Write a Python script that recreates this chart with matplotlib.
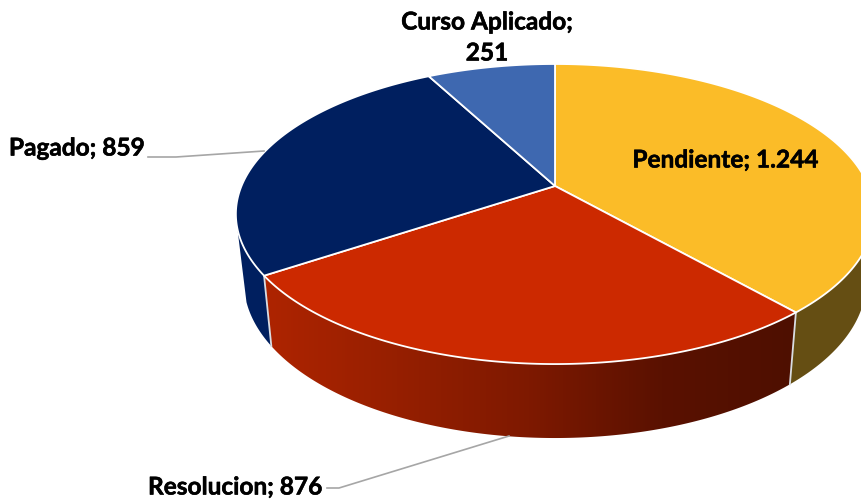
import matplotlib
matplotlib.use("Agg")
import matplotlib.pyplot as plt
import matplotlib.patheffects as pe
from matplotlib.colors import LinearSegmentedColormap
from matplotlib.patches import Polygon
import numpy as np

categories = ["Pendiente", "Resolucion", "Pagado", "Curso Aplicado"]
values = [1244, 876, 859, 251]
top_colors = ["#FBBC28", "#CC2900", "#001F5F", "#3E68B0"]
side_colors = ["#654E13", "#4E0F00", "#001F5F", "#3E68B0"]
value_labels = ["1.244", "876", "859", "251"]


# unit circle angle (clockwise from top) -> top face of the tilted pie, in pixels
def top_face(a):
    k = 0.1868
    w = 1 + k * np.cos(a)
    return 555 + 313.5 * np.sin(a) / w, 186 - 144.8 * np.cos(a) / w


def bottom_face(a):
    x, y = top_face(a)
    return 555 + (x - 555) * 0.975, y * 1.04 + 59.4


def arc(a0, a1, f):
    t = np.linspace(a0, a1, 200)
    x, y = f(t)
    return np.column_stack([x, y])


fig = plt.figure(figsize=(8.61, 5), dpi=100)
ax = fig.add_axes([0, 0, 1, 1])
ax.set_xlim(0, 861)
ax.set_ylim(500, 0)
ax.axis("off")

edges = np.concatenate([[0], np.cumsum(values)]) / sum(values) * 2 * np.pi

# side walls, only the front half shows
for i in range(3):
    a0, a1 = edges[i], edges[i + 1]
    if i == 0:
        a0 = np.pi / 2
    if i == 1:
        wall = np.vstack([arc(a0, a1, top_face), arc(a1, a0, bottom_face)])
        poly = Polygon(wall, closed=True, fc="none", ec="none")
        ax.add_patch(poly)
        cmap = LinearSegmentedColormap.from_list(
            "wall", ["#AE2400", "#961F00", "#7E1900", "#5A1100", "#4E0F00"])
        im = ax.imshow(np.linspace(0, 1, 256)[None, :], cmap=cmap, aspect="auto",
                       extent=[264, 795, 440, 270], zorder=1)
        im.set_clip_path(poly)
    elif i == 2:
        # left end of the wall runs up to the widest point of the top face
        wall = np.vstack([arc(a0, 1.41 * np.pi, top_face),
                          arc(1.40 * np.pi, a0, bottom_face)])
        ax.add_patch(Polygon(wall, closed=True, fc=side_colors[i], ec="none", zorder=1))
    else:
        wall = np.vstack([arc(a0, a1, top_face), arc(a1, a0, bottom_face)])
        ax.add_patch(Polygon(wall, closed=True, fc=side_colors[i], ec="none", zorder=1))

# white seams between the walls
for a in edges[1:3]:
    x0, y0 = top_face(a)
    x1, y1 = bottom_face(a)
    ax.plot([x0, x1], [y0, y1], color="#D9DDE3", lw=1.3, zorder=2)

# top face
apex = top_face(0)[0], 186
for i in range(4):
    pts = np.vstack([[apex], arc(edges[i], edges[i + 1], top_face)])
    ax.add_patch(Polygon(pts, closed=True, fc=top_colors[i], ec="white", lw=1.3,
                         joinstyle="round", zorder=3))

# leader lines
ax.plot([148, 176, 264], [157, 157, 151], color="#A6A6A6", lw=1.2, zorder=4)
ax.plot([327, 339, 509], [488, 488, 436], color="#A6A6A6", lw=1.2, zorder=4)

font = dict(family="Lato", weight="bold", fontsize=17.6, color="black", zorder=5,
            path_effects=[pe.withStroke(linewidth=0.4, foreground="black")])
ax.text(725, 160, f"{categories[0]}; {value_labels[0]}", ha="center", va="center", **font)
ax.text(235, 487, f"{categories[1]}; {value_labels[1]}", ha="center", va="center", **font)
ax.text(77, 148, f"{categories[2]}; {value_labels[2]}", ha="center", va="center", **font)
ax.text(487, 22, f"{categories[3]};", ha="center", va="center", **font)
ax.text(487, 53, value_labels[3], ha="center", va="center", **font)

fig.savefig("out.png", dpi=100)
